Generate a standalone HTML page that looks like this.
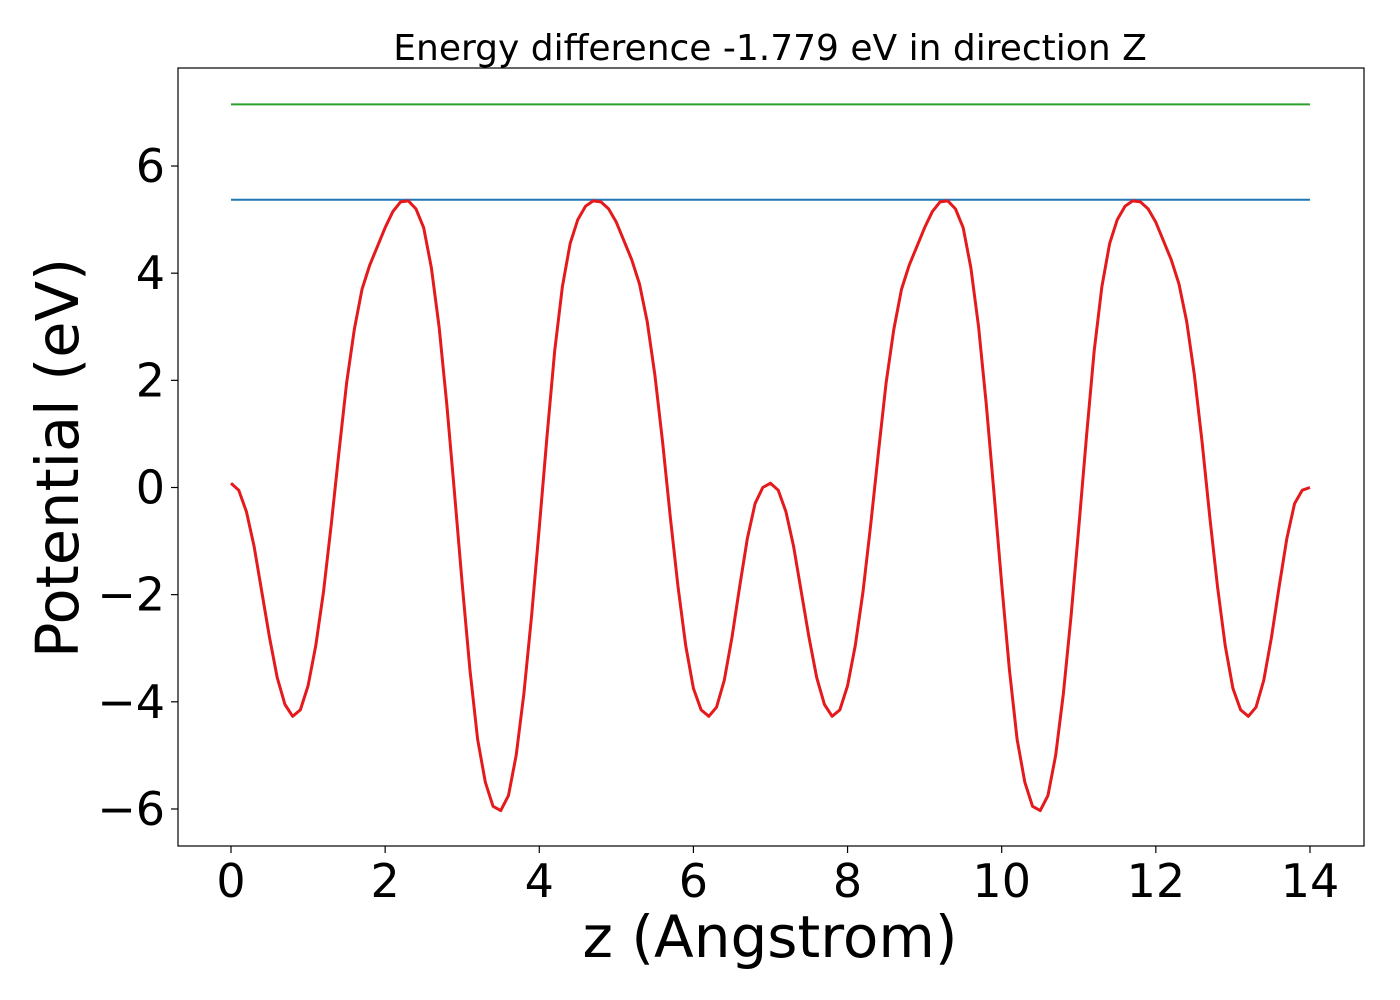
<!DOCTYPE html>
<html><head><meta charset="utf-8"><style>
body{margin:0;background:#fff;}
svg{display:block;font-family:"DejaVu Sans","Liberation Sans",sans-serif;}
</style></head><body>
<svg id="chart" width="1400" height="1000">
<rect x="0" y="0" width="1400" height="1000" fill="#fff"/>
<text x="770" y="60" font-size="36" text-anchor="middle">Energy difference -1.779 eV in direction Z</text>
<g id="plot"></g>
<rect x="178" y="68" width="1186" height="778" fill="none" stroke="#000" stroke-width="1.2"/>
<text x="770" y="957" font-size="58" text-anchor="middle">z (Angstrom)</text>
<text transform="translate(78,458) rotate(-90)" font-size="59" text-anchor="middle">Potential (eV)</text>
</svg>
<script>
const halfValues = [0.08,-0.05,-0.45,-1.1,-1.95,-2.8,-3.55,-4.05,-4.27,-4.15,-3.7,-2.95,-1.95,-0.7,0.65,1.95,2.95,3.7,4.15,4.5,4.85,5.15,5.33,5.35,5.2,4.85,4.1,3.0,1.55,-0.1,-1.8,-3.4,-4.7,-5.5,-5.95,-6.03,-5.75,-5.0,-3.85,-2.4,-0.75,0.95,2.55,3.75,4.55,5.0,5.25,5.35,5.33,5.2,4.95,4.6,4.25,3.8,3.1,2.1,0.85,-0.55,-1.85,-2.95,-3.75,-4.15,-4.27,-4.1,-3.6,-2.8,-1.85,-0.95,-0.3,0.0,0.08];
const secondValues = [-0.05,-0.45,-1.1,-1.95,-2.8,-3.55,-4.05,-4.27,-4.15,-3.7,-2.95,-1.95,-0.7,0.65,1.95,2.95,3.7,4.15,4.5,4.85,5.15,5.33,5.35,5.2,4.85,4.1,3.0,1.55,-0.1,-1.8,-3.4,-4.7,-5.5,-5.95,-6.03,-5.75,-5.0,-3.85,-2.4,-0.75,0.95,2.55,3.75,4.55,5.0,5.25,5.35,5.33,5.2,4.95,4.6,4.25,3.8,3.1,2.1,0.85,-0.55,-1.85,-2.95,-3.75,-4.15,-4.27,-4.1,-3.6,-2.8,-1.85,-0.95,-0.3,-0.05,0.0];
const potentialValues = halfValues.concat(secondValues);
const zStep = 0.1;
const blueLevel = 5.37;
const greenLevel = 7.15;
const xTicks = [0,2,4,6,8,10,12,14];
const yTicks = [-6,-4,-2,0,2,4,6];
const xTickLabels = ["0","2","4","6","8","10","12","14"];
const yTickLabels = ["\u22126","\u22124","\u22122","0","2","4","6"];

const X = v => 231 + v * 77.07;
const Y = v => 487.5 - v * 53.58;
const NS = "http://www.w3.org/2000/svg";
const svg = document.getElementById('chart');
const plot = document.getElementById('plot');
function mk(tag, attrs, parent){const e=document.createElementNS(NS,tag);for(const k in attrs)e.setAttribute(k,attrs[k]);(parent||svg).appendChild(e);return e;}

const g = mk('line',{x1:X(0),x2:X(14),y1:Y(greenLevel),y2:Y(greenLevel),stroke:'#2ca02c','stroke-width':2},plot);


const b = mk('line',{x1:X(0),x2:X(14),y1:Y(blueLevel),y2:Y(blueLevel),stroke:'#1f77b4','stroke-width':2},plot);


const pts = potentialValues.map((v,i)=>X(i*zStep).toFixed(2)+','+Y(v).toFixed(2)).join(' ');
const curve = mk('polyline',{points:pts,fill:'none',stroke:'#e41a1c','stroke-width':3,'stroke-linejoin':'round'},plot);



xTicks.forEach((t,i)=>{
  const l = mk('line',{x1:X(t),x2:X(t),y1:846,y2:853,stroke:'#000','stroke-width':1.2});
  
  
  const tx = mk('text',{x:X(t),y:897,'font-size':46,'text-anchor':'middle'});
  tx.textContent = xTickLabels[i];
  
  
});
yTicks.forEach((t,i)=>{
  const l = mk('line',{x1:171,x2:178,y1:Y(t),y2:Y(t),stroke:'#000','stroke-width':1.2});
  
  
  const tx = mk('text',{x:165,y:Y(t)+16,'font-size':46,'text-anchor':'end'});
  tx.textContent = yTickLabels[i];
  
  
});
</script>
</body></html>
